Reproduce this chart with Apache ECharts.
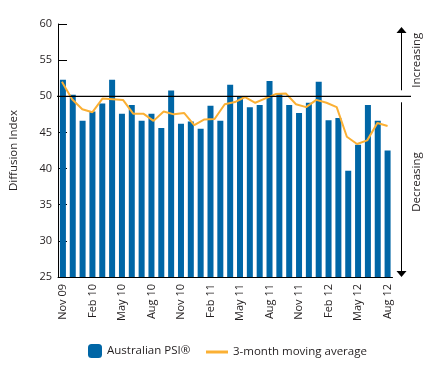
<!DOCTYPE html>
<html>
<head>
<meta charset="utf-8">
<script src="https://cdn.jsdelivr.net/npm/echarts@6/dist/echarts.min.js"></script>
<style>
html,body{margin:0;padding:0;background:#fff;}
#chart{width:434px;height:366px;}
</style>
</head>
<body>
<div id="chart"></div>
<script>
// ---- data ----
var months = ['Nov 09','Dec 09','Jan 10','Feb 10','Mar 10','Apr 10','May 10','Jun 10','Jul 10','Aug 10','Sep 10','Oct 10',
  'Nov 10','Dec 10','Jan 11','Feb 11','Mar 11','Apr 11','May 11','Jun 11','Jul 11','Aug 11','Sep 11','Oct 11',
  'Nov 11','Dec 11','Jan 12','Feb 12','Mar 12','Apr 12','May 12','Jun 12','Jul 12','Aug 12'];
var psiValues = [52.3, 50.2, 46.6, 47.9, 49.0, 52.3, 47.6, 48.8, 46.6, 47.6, 45.6, 50.8,
  46.2, 46.5, 45.5, 48.7, 46.6, 51.6, 49.9, 48.5, 48.8, 52.1, 50.3, 48.8,
  47.7, 49.1, 52.0, 46.7, 47.0, 39.7, 43.3, 48.8, 46.6, 42.5];
// moving-average line as drawn in the source (33 points spread over the bar span)
var maPoints = ['p1','p2','p3','p4','p5','p6','p7','p8','p9','p10','p11','p12','p13','p14','p15','p16','p17',
  'p18','p19','p20','p21','p22','p23','p24','p25','p26','p27','p28','p29','p30','p31','p32','p33'];
var maValues = [52.0, 49.6, 48.2, 47.8, 49.7, 49.6, 49.5, 47.6, 47.6, 46.6, 47.9, 47.5, 47.7, 46.0, 46.8, 46.85,
  48.9, 49.2, 49.9, 49.1, 49.7, 50.3, 50.4, 48.9, 48.5, 49.5, 49.1, 48.5, 44.4, 43.4, 43.9, 46.3, 45.9];
var yTicks = {min: 25, max: 60, interval: 5};
var refValue = 50;

var txt = '#231f20';
var font = 'Open Sans';
var chart = echarts.init(document.getElementById('chart'), null, {renderer: 'canvas'});
var gridL = 57, gridR = 41.5, gridT = 24, gridB = 89;
var halfBand = (434 - gridL - gridR) / months.length / 2;

chart.setOption({
  animation: false,
  textStyle: {fontFamily: font, color: txt},
  grid: [
    {left: gridL, right: gridR, top: gridT, bottom: gridB},
    {left: gridL + halfBand, right: gridR + halfBand, top: gridT, bottom: gridB}
  ],
  legend: [
    {left: 88, top: 344, padding: 0, itemWidth: 14, itemHeight: 14, itemGap: 10,
     textStyle: {fontFamily: font, fontSize: 11.5, color: txt}, data: ['Australian PSI®']},
    {left: 206, top: 346, padding: 0, itemWidth: 22, itemHeight: 3, icon: 'rect',
     textStyle: {fontFamily: font, fontSize: 11.5, color: txt}, data: ['3-month moving average']}
  ],
  xAxis: [
    {type: 'category', gridIndex: 0, data: months, boundaryGap: true,
     axisLine: {lineStyle: {color: '#000', width: 1}},
     axisTick: {inside: true, length: 4, interval: 0, lineStyle: {color: '#000'}},
     axisLabel: {interval: 2, rotate: 90, fontSize: 11, color: txt, fontFamily: font, margin: 7}},
    {type: 'category', gridIndex: 1, data: maPoints, boundaryGap: false, show: false}
  ],
  yAxis: [
    {type: 'value', gridIndex: 0, min: yTicks.min, max: yTicks.max, interval: yTicks.interval,
     name: 'Diffusion Index', nameLocation: 'middle', nameGap: 38,
     nameTextStyle: {fontSize: 11.5, color: txt, fontFamily: font},
     axisLine: {show: true, lineStyle: {color: '#000', width: 1}},
     axisTick: {show: true, inside: true, length: 9, lineStyle: {color: '#000'}},
     splitLine: {show: false},
     axisLabel: {fontSize: 11, color: txt, fontFamily: font, margin: 6}},
    {type: 'value', gridIndex: 1, min: yTicks.min, max: yTicks.max, show: false}
  ],
  series: [
    {name: 'Australian PSI®', type: 'bar', xAxisIndex: 0, yAxisIndex: 0, data: psiValues,
     barWidth: 6, itemStyle: {color: '#0066a6'}},
    {name: '3-month moving average', type: 'line', xAxisIndex: 1, yAxisIndex: 1, data: maValues,
     showSymbol: false, symbol: 'none', lineStyle: {color: '#fbb034', width: 2}, itemStyle: {color: '#fbb034'}, z: 3}
  ]
});

var y50 = chart.convertToPixel({yAxisIndex: 0}, refValue);
var yTop = chart.convertToPixel({yAxisIndex: 0}, yTicks.max);
var yBot = chart.convertToPixel({yAxisIndex: 0}, yTicks.min);
var ax = 401.5;
chart.setOption({
  graphic: [
    {type: 'line', shape: {x1: gridL, y1: y50, x2: 411, y2: y50}, style: {stroke: '#000', lineWidth: 1.3}, z: 10},
    {type: 'line', shape: {x1: ax, y1: y50 - 6, x2: ax, y2: yTop + 8}, style: {stroke: '#000', lineWidth: 1}},
    {type: 'polygon', shape: {points: [[ax - 5, yTop + 9], [ax + 5, yTop + 9], [ax, yTop + 3]]}, style: {fill: '#000'}},
    {type: 'line', shape: {x1: ax, y1: y50 + 6, x2: ax, y2: yBot - 5}, style: {stroke: '#000', lineWidth: 1}},
    {type: 'polygon', shape: {points: [[ax - 5, yBot - 6], [ax + 5, yBot - 6], [ax, yBot]]}, style: {fill: '#000'}},
    {type: 'text', x: 417, y: (yTop + y50) / 2, rotation: Math.PI / 2,
     style: {text: 'Increasing', fontSize: 11.5, fontFamily: font, fill: txt, textAlign: 'center', textVerticalAlign: 'middle'}},
    {type: 'text', x: 417, y: 182, rotation: Math.PI / 2,
     style: {text: 'Decreasing', fontSize: 11.5, fontFamily: font, fill: txt, textAlign: 'center', textVerticalAlign: 'middle'}}
  ]
});
</script>
</body>
</html>
